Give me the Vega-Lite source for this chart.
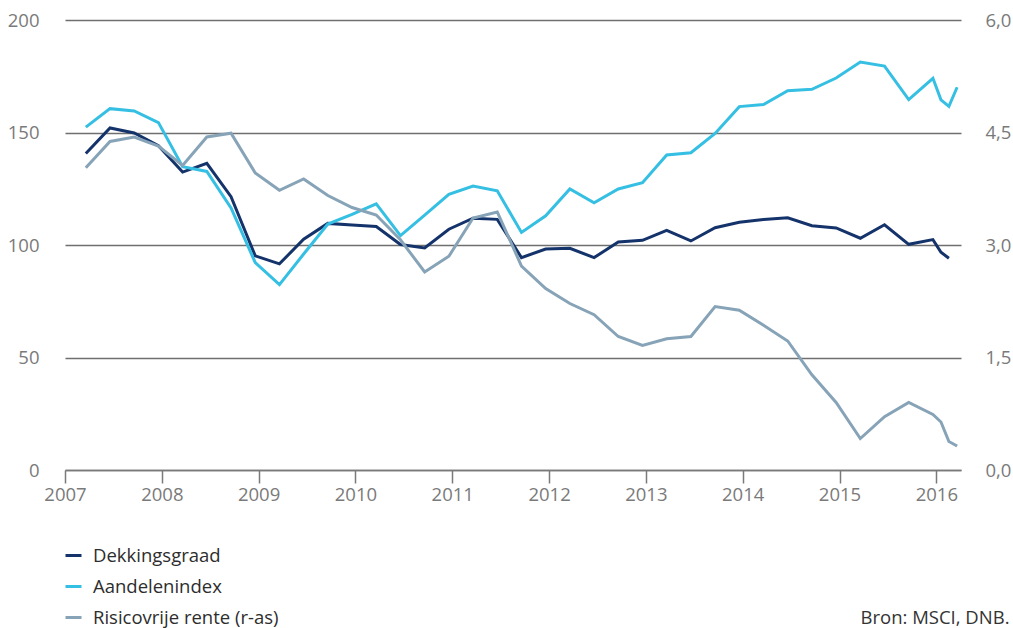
{
  "$schema": "https://vega.github.io/schema/vega-lite/v6.json",
  "width": 896,
  "height": 450,
  "autosize": {"type": "none"},
  "padding": {"left": 65, "top": 20, "right": 52, "bottom": 158},
  "background": "white",
  "config": {
    "view": {"stroke": null},
    "font": "Open Sans",
    "axis": {"labelFont": "Open Sans", "titleFont": "Open Sans"},
    "legend": {"labelFont": "Open Sans"}
  },
  "data": {
    "values": [
      {"t": 2007.215, "reeks": "Dekkingsgraad", "v": 140.7},
      {"t": 2007.465, "reeks": "Dekkingsgraad", "v": 152.0},
      {"t": 2007.715, "reeks": "Dekkingsgraad", "v": 149.8},
      {"t": 2007.965, "reeks": "Dekkingsgraad", "v": 144.1},
      {"t": 2008.215, "reeks": "Dekkingsgraad", "v": 132.4},
      {"t": 2008.465, "reeks": "Dekkingsgraad", "v": 136.3},
      {"t": 2008.715, "reeks": "Dekkingsgraad", "v": 121.5},
      {"t": 2008.965, "reeks": "Dekkingsgraad", "v": 95.2},
      {"t": 2009.215, "reeks": "Dekkingsgraad", "v": 91.6},
      {"t": 2009.465, "reeks": "Dekkingsgraad", "v": 102.6},
      {"t": 2009.715, "reeks": "Dekkingsgraad", "v": 109.6},
      {"t": 2009.965, "reeks": "Dekkingsgraad", "v": 108.9},
      {"t": 2010.215, "reeks": "Dekkingsgraad", "v": 108.2},
      {"t": 2010.465, "reeks": "Dekkingsgraad", "v": 100.2},
      {"t": 2010.715, "reeks": "Dekkingsgraad", "v": 98.7},
      {"t": 2010.965, "reeks": "Dekkingsgraad", "v": 107.0},
      {"t": 2011.215, "reeks": "Dekkingsgraad", "v": 111.9},
      {"t": 2011.465, "reeks": "Dekkingsgraad", "v": 111.4},
      {"t": 2011.715, "reeks": "Dekkingsgraad", "v": 94.4},
      {"t": 2011.965, "reeks": "Dekkingsgraad", "v": 98.2},
      {"t": 2012.215, "reeks": "Dekkingsgraad", "v": 98.5},
      {"t": 2012.465, "reeks": "Dekkingsgraad", "v": 94.4},
      {"t": 2012.715, "reeks": "Dekkingsgraad", "v": 101.3},
      {"t": 2012.965, "reeks": "Dekkingsgraad", "v": 102.1},
      {"t": 2013.215, "reeks": "Dekkingsgraad", "v": 106.5},
      {"t": 2013.465, "reeks": "Dekkingsgraad", "v": 101.8},
      {"t": 2013.715, "reeks": "Dekkingsgraad", "v": 107.7},
      {"t": 2013.965, "reeks": "Dekkingsgraad", "v": 110.1},
      {"t": 2014.215, "reeks": "Dekkingsgraad", "v": 111.3},
      {"t": 2014.465, "reeks": "Dekkingsgraad", "v": 112.1},
      {"t": 2014.715, "reeks": "Dekkingsgraad", "v": 108.6},
      {"t": 2014.965, "reeks": "Dekkingsgraad", "v": 107.6},
      {"t": 2015.215, "reeks": "Dekkingsgraad", "v": 103.0},
      {"t": 2015.465, "reeks": "Dekkingsgraad", "v": 109.0},
      {"t": 2015.715, "reeks": "Dekkingsgraad", "v": 100.3},
      {"t": 2015.965, "reeks": "Dekkingsgraad", "v": 102.4},
      {"t": 2016.048, "reeks": "Dekkingsgraad", "v": 96.8},
      {"t": 2016.13, "reeks": "Dekkingsgraad", "v": 94.1},
      {"t": 2007.215, "reeks": "Aandelenindex", "v": 152.4},
      {"t": 2007.465, "reeks": "Aandelenindex", "v": 160.6},
      {"t": 2007.715, "reeks": "Aandelenindex", "v": 159.6},
      {"t": 2007.965, "reeks": "Aandelenindex", "v": 154.4},
      {"t": 2008.215, "reeks": "Aandelenindex", "v": 134.8},
      {"t": 2008.465, "reeks": "Aandelenindex", "v": 132.7},
      {"t": 2008.715, "reeks": "Aandelenindex", "v": 116.5},
      {"t": 2008.965, "reeks": "Aandelenindex", "v": 92.2},
      {"t": 2009.215, "reeks": "Aandelenindex", "v": 82.4},
      {"t": 2009.465, "reeks": "Aandelenindex", "v": 96.0},
      {"t": 2009.715, "reeks": "Aandelenindex", "v": 109.3},
      {"t": 2009.965, "reeks": "Aandelenindex", "v": 113.6},
      {"t": 2010.215, "reeks": "Aandelenindex", "v": 118.3},
      {"t": 2010.465, "reeks": "Aandelenindex", "v": 104.2},
      {"t": 2010.715, "reeks": "Aandelenindex", "v": 113.3},
      {"t": 2010.965, "reeks": "Aandelenindex", "v": 122.5},
      {"t": 2011.215, "reeks": "Aandelenindex", "v": 126.2},
      {"t": 2011.465, "reeks": "Aandelenindex", "v": 124.1},
      {"t": 2011.715, "reeks": "Aandelenindex", "v": 105.6},
      {"t": 2011.965, "reeks": "Aandelenindex", "v": 113.0},
      {"t": 2012.215, "reeks": "Aandelenindex", "v": 124.9},
      {"t": 2012.465, "reeks": "Aandelenindex", "v": 118.8},
      {"t": 2012.715, "reeks": "Aandelenindex", "v": 124.9},
      {"t": 2012.965, "reeks": "Aandelenindex", "v": 127.7},
      {"t": 2013.215, "reeks": "Aandelenindex", "v": 140.0},
      {"t": 2013.465, "reeks": "Aandelenindex", "v": 141.0},
      {"t": 2013.715, "reeks": "Aandelenindex", "v": 149.6},
      {"t": 2013.965, "reeks": "Aandelenindex", "v": 161.5},
      {"t": 2014.215, "reeks": "Aandelenindex", "v": 162.4},
      {"t": 2014.465, "reeks": "Aandelenindex", "v": 168.6},
      {"t": 2014.715, "reeks": "Aandelenindex", "v": 169.2},
      {"t": 2014.965, "reeks": "Aandelenindex", "v": 174.2},
      {"t": 2015.215, "reeks": "Aandelenindex", "v": 181.3},
      {"t": 2015.465, "reeks": "Aandelenindex", "v": 179.5},
      {"t": 2015.715, "reeks": "Aandelenindex", "v": 164.6},
      {"t": 2015.965, "reeks": "Aandelenindex", "v": 174.1},
      {"t": 2016.048, "reeks": "Aandelenindex", "v": 164.5},
      {"t": 2016.13, "reeks": "Aandelenindex", "v": 161.6},
      {"t": 2016.215, "reeks": "Aandelenindex", "v": 170.1},
      {"t": 2007.215, "reeks": "Risicovrije rente (r-as)", "v": 4.03},
      {"t": 2007.465, "reeks": "Risicovrije rente (r-as)", "v": 4.38},
      {"t": 2007.715, "reeks": "Risicovrije rente (r-as)", "v": 4.44},
      {"t": 2007.965, "reeks": "Risicovrije rente (r-as)", "v": 4.32},
      {"t": 2008.215, "reeks": "Risicovrije rente (r-as)", "v": 4.06},
      {"t": 2008.465, "reeks": "Risicovrije rente (r-as)", "v": 4.44},
      {"t": 2008.715, "reeks": "Risicovrije rente (r-as)", "v": 4.49},
      {"t": 2008.965, "reeks": "Risicovrije rente (r-as)", "v": 3.96},
      {"t": 2009.215, "reeks": "Risicovrije rente (r-as)", "v": 3.73},
      {"t": 2009.465, "reeks": "Risicovrije rente (r-as)", "v": 3.88},
      {"t": 2009.715, "reeks": "Risicovrije rente (r-as)", "v": 3.66},
      {"t": 2009.965, "reeks": "Risicovrije rente (r-as)", "v": 3.5},
      {"t": 2010.215, "reeks": "Risicovrije rente (r-as)", "v": 3.4},
      {"t": 2010.465, "reeks": "Risicovrije rente (r-as)", "v": 3.07},
      {"t": 2010.715, "reeks": "Risicovrije rente (r-as)", "v": 2.64},
      {"t": 2010.965, "reeks": "Risicovrije rente (r-as)", "v": 2.85},
      {"t": 2011.215, "reeks": "Risicovrije rente (r-as)", "v": 3.36},
      {"t": 2011.465, "reeks": "Risicovrije rente (r-as)", "v": 3.44},
      {"t": 2011.715, "reeks": "Risicovrije rente (r-as)", "v": 2.72},
      {"t": 2011.965, "reeks": "Risicovrije rente (r-as)", "v": 2.42},
      {"t": 2012.215, "reeks": "Risicovrije rente (r-as)", "v": 2.22},
      {"t": 2012.465, "reeks": "Risicovrije rente (r-as)", "v": 2.07},
      {"t": 2012.715, "reeks": "Risicovrije rente (r-as)", "v": 1.78},
      {"t": 2012.965, "reeks": "Risicovrije rente (r-as)", "v": 1.66},
      {"t": 2013.215, "reeks": "Risicovrije rente (r-as)", "v": 1.75},
      {"t": 2013.465, "reeks": "Risicovrije rente (r-as)", "v": 1.78},
      {"t": 2013.715, "reeks": "Risicovrije rente (r-as)", "v": 2.18},
      {"t": 2013.965, "reeks": "Risicovrije rente (r-as)", "v": 2.13},
      {"t": 2014.215, "reeks": "Risicovrije rente (r-as)", "v": 1.93},
      {"t": 2014.465, "reeks": "Risicovrije rente (r-as)", "v": 1.72},
      {"t": 2014.715, "reeks": "Risicovrije rente (r-as)", "v": 1.27},
      {"t": 2014.965, "reeks": "Risicovrije rente (r-as)", "v": 0.9},
      {"t": 2015.215, "reeks": "Risicovrije rente (r-as)", "v": 0.42},
      {"t": 2015.465, "reeks": "Risicovrije rente (r-as)", "v": 0.71},
      {"t": 2015.715, "reeks": "Risicovrije rente (r-as)", "v": 0.9},
      {"t": 2015.965, "reeks": "Risicovrije rente (r-as)", "v": 0.74},
      {"t": 2016.048, "reeks": "Risicovrije rente (r-as)", "v": 0.64},
      {"t": 2016.13, "reeks": "Risicovrije rente (r-as)", "v": 0.38},
      {"t": 2016.215, "reeks": "Risicovrije rente (r-as)", "v": 0.32}
    ]
  },
  "encoding": {
    "x": {
      "field": "t",
      "type": "quantitative",
      "scale": {"domain": [2007, 2016.255], "nice": false, "zero": false},
      "axis": {
        "values": [2007, 2008, 2009, 2010, 2011, 2012, 2013, 2014, 2015, 2016],
        "format": "d",
        "grid": false,
        "labelFlush": false,
        "labelOverlap": false,
        "tickSize": 13,
        "tickWidth": 1.5,
        "tickColor": "#7a7a7a",
        "domainColor": "#7a7a7a",
        "domainWidth": 1.5,
        "labelPadding": 2,
        "labelColor": "#7a7a7a",
        "labelFontSize": 18.5,
        "title": "Bron: MSCI, DNB.",
        "titleAnchor": "end",
        "titleAlign": "right",
        "titleBaseline": "alphabetic",
        "titleX": 944,
        "titleY": 153,
        "titleFontSize": 18.5,
        "titleFontWeight": "normal",
        "titleColor": "#333333"
      }
    }
  },
  "layer": [
    {
      "transform": [{"filter": "datum.reeks !== 'Risicovrije rente (r-as)'"}],
      "mark": {"type": "line", "strokeWidth": 3},
      "encoding": {
        "y": {
          "field": "v",
          "type": "quantitative",
          "scale": {"domain": [0, 200], "nice": false},
          "axis": {
            "orient": "left",
            "values": [0, 50, 100, 150, 200],
            "grid": true,
            "gridColor": "#6f6f6f",
            "gridWidth": 1.5,
            "domain": false,
            "ticks": false,
            "labelPadding": 26,
            "labelColor": "#7a7a7a",
            "labelFontSize": 18.5,
            "title": null
          }
        },
        "color": {
          "field": "reeks",
          "type": "nominal",
          "scale": {
            "domain": ["Dekkingsgraad", "Aandelenindex", "Risicovrije rente (r-as)"],
            "range": ["#15336b", "#35bfe3", "#87a3b7"]
          },
          "legend": {
            "orient": "none",
            "legendX": -1,
            "legendY": 526,
            "title": null,
            "direction": "vertical",
            "symbolType": "stroke",
            "symbolSize": 256,
            "symbolStrokeWidth": 3,
            "labelFontSize": 18.5,
            "labelColor": "#2d2d2d",
            "labelOffset": 10,
            "rowPadding": 12,
            "padding": 0,
            "labelLimit": 400
          }
        }
      }
    },
    {
      "transform": [{"filter": "datum.reeks === 'Risicovrije rente (r-as)'"}],
      "mark": {"type": "line", "strokeWidth": 3},
      "encoding": {
        "y": {
          "field": "v",
          "type": "quantitative",
          "scale": {"domain": [0, 6], "nice": false},
          "axis": {
            "orient": "right",
            "values": [0, 1.5, 3, 4.5, 6],
            "labelExpr": "replace(format(datum.value, '.1f'), '.', ',')",
            "grid": false,
            "domain": false,
            "ticks": false,
            "labelPadding": 24,
            "labelColor": "#7a7a7a",
            "labelFontSize": 18.5,
            "title": null
          }
        },
        "color": {
          "field": "reeks",
          "type": "nominal",
          "scale": {
            "domain": ["Dekkingsgraad", "Aandelenindex", "Risicovrije rente (r-as)"],
            "range": ["#15336b", "#35bfe3", "#87a3b7"]
          }
        }
      }
    }
  ],
  "resolve": {"scale": {"y": "independent"}}
}
